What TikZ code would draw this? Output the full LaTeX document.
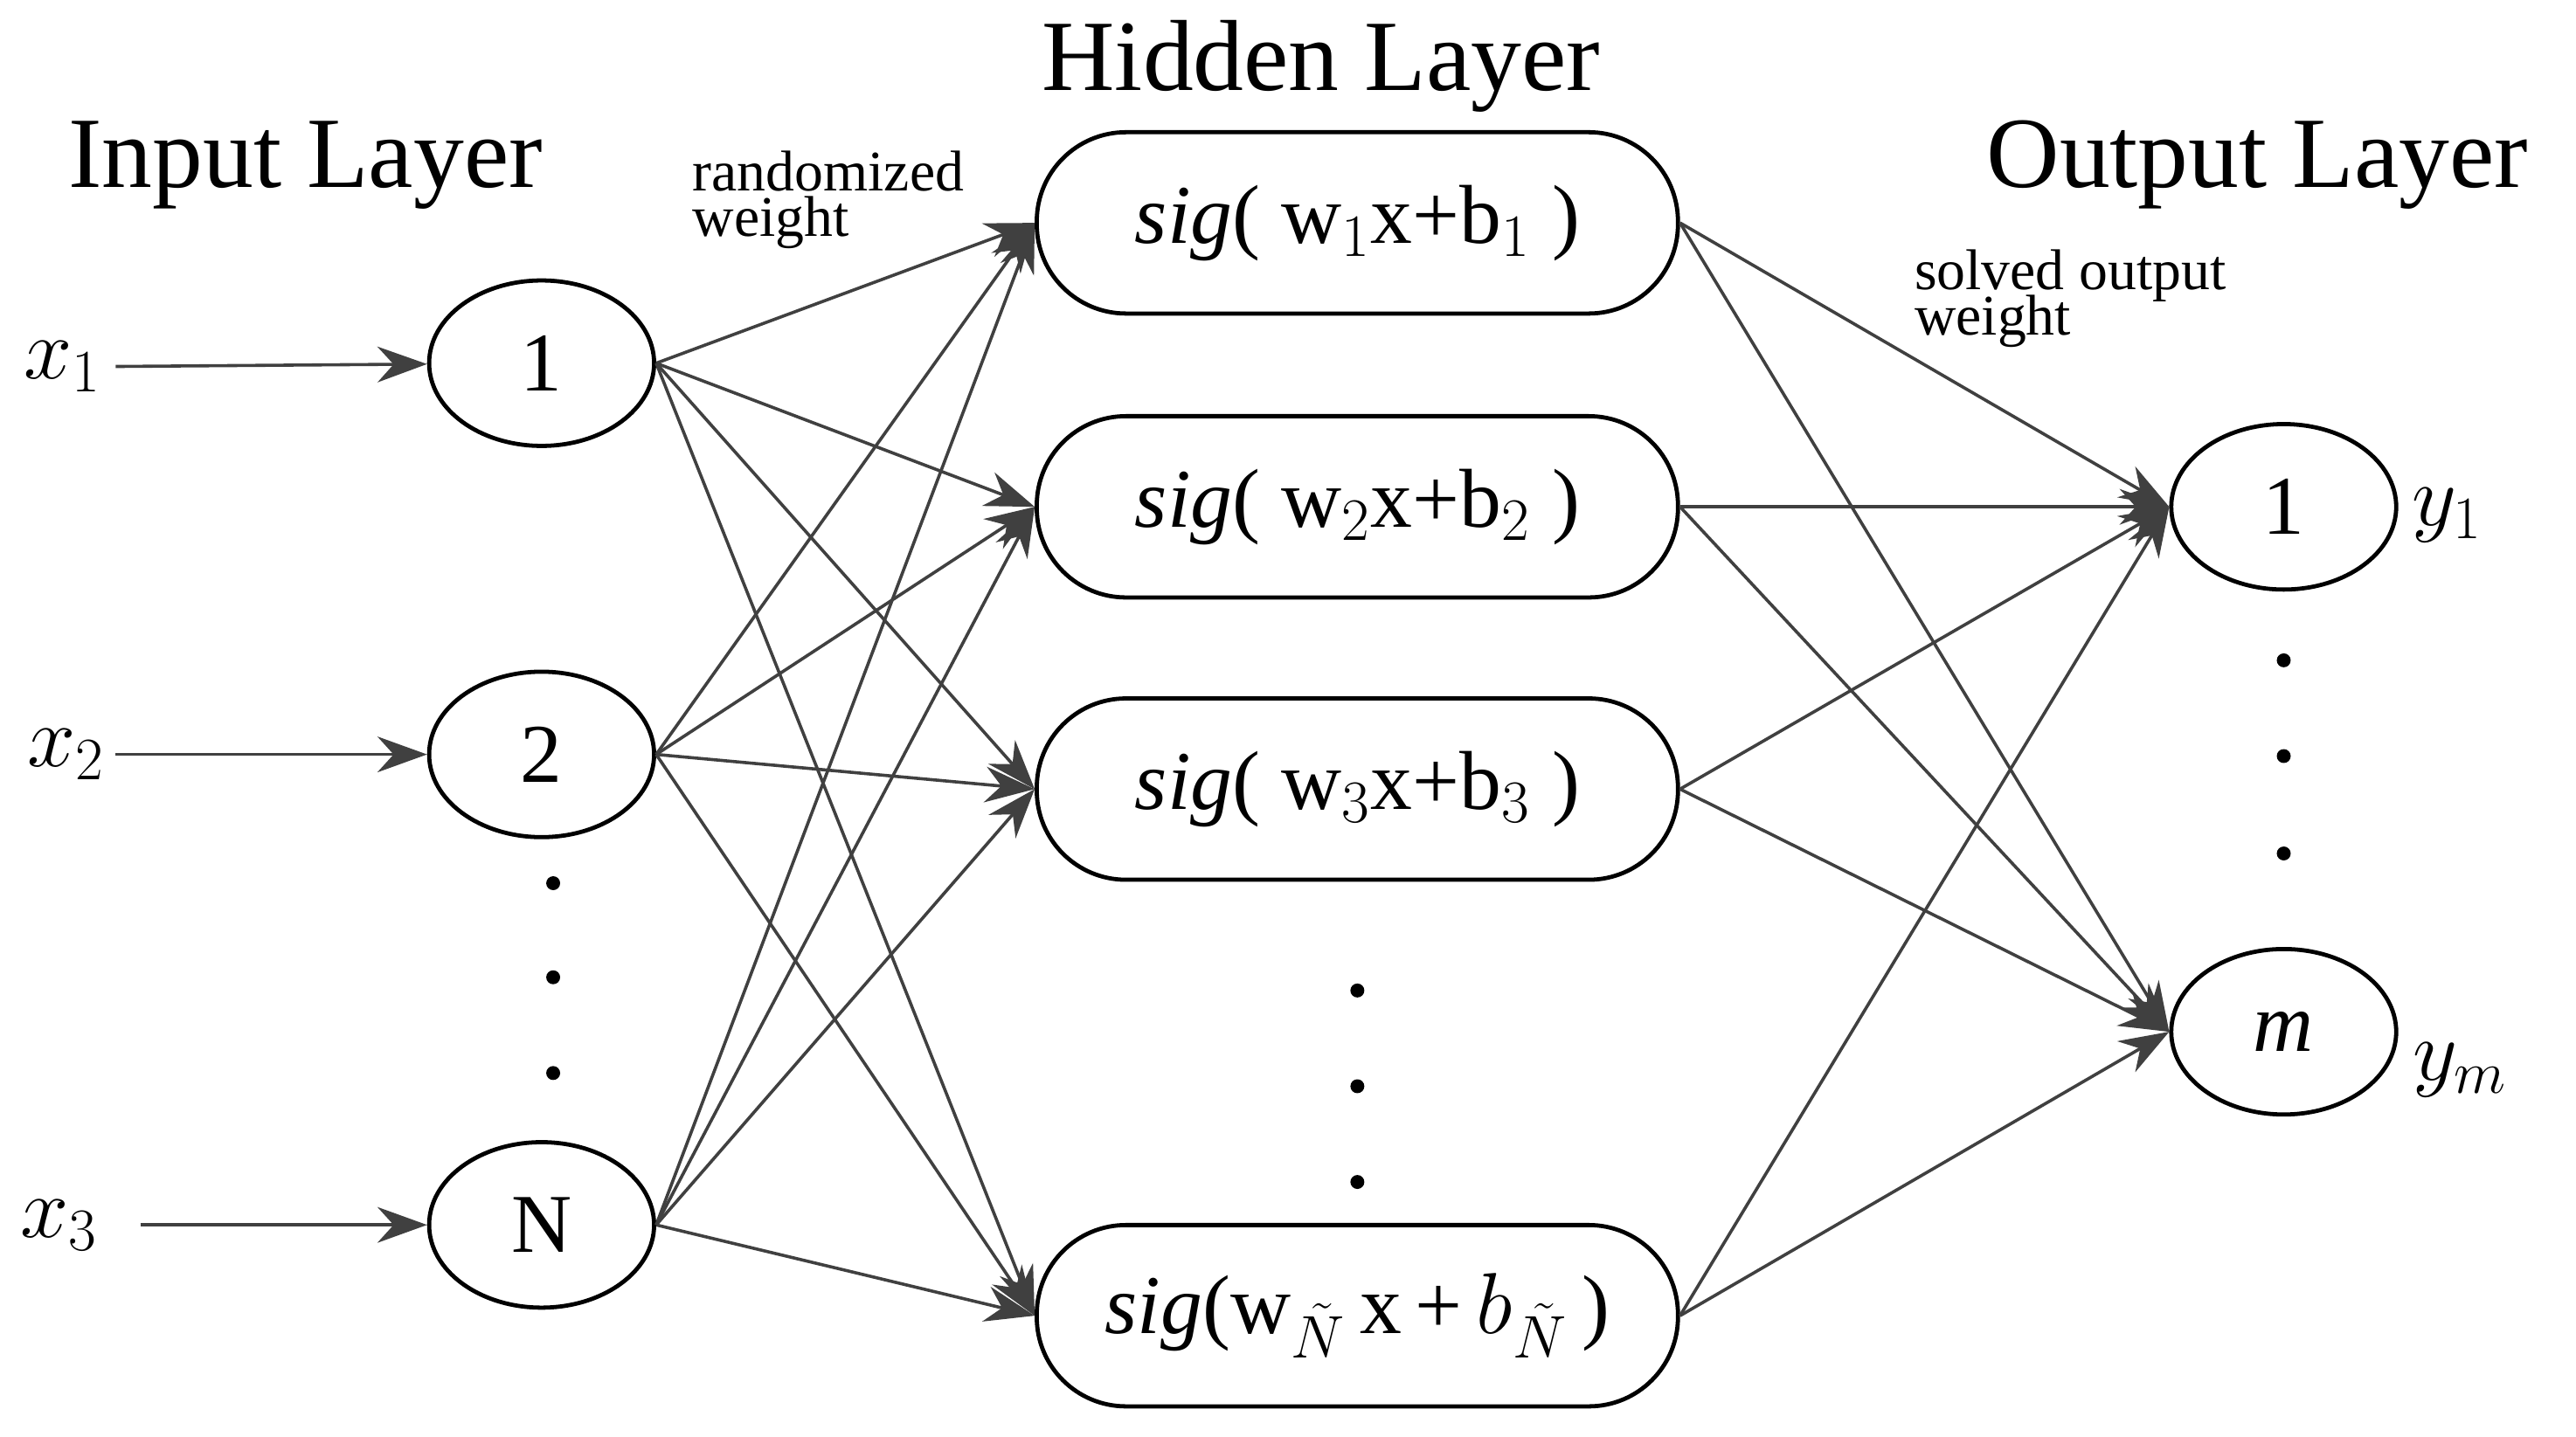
\documentclass[tikz,border=0pt]{standalone}
\usepackage{fontspec}
\setmainfont{Liberation Serif}
\usetikzlibrary{shapes.geometric,arrows.meta}
\begin{document}
\begin{tikzpicture}[x=0.016667cm,y=-0.016667cm,
  neuron/.style={draw,line width=1.2pt,ellipse,minimum width=2.27cm,minimum height=1.67cm,inner sep=0pt,font=\fontsize{24}{28}\selectfont},
  hid/.style={draw,line width=1.2pt,rounded corners=0.9cm,minimum width=6.47cm,minimum height=1.83cm,font=\fontsize{24}{28}\selectfont},
  conn/.style={line width=0.9pt,draw=black!75,-{Stealth[length=0.5cm,width=0.36cm]}},
  dot/.style={circle,fill=black,inner sep=0pt,minimum size=4pt},
  title/.style={font=\fontsize{29}{32}\selectfont},
  small/.style={font=\fontsize{16.5}{17}\selectfont,align=left}]
\useasboundingbox (0,0) rectangle (1560,870);
\node[title] (tin) at (185,100) {Input Layer};
\node[title] (thid) at (800,40) {Hidden Layer};
\node[title] (tout) at (1367,100) {Output Layer};
\node[small,anchor=north west] (rw) at (412,84) {randomized\\[-4pt]weight};
\node[small,anchor=north west] (sw) at (1152,144) {solved output\\[-4pt]weight};
\node[neuron] (in1) at (328,220) {1};
\node[neuron] (in2) at (328,457) {2};
\node[neuron] (in3) at (328,742) {N};
\node[hid] (h1) at (822,135) {\textit{sig}( w$_1$x+b$_1$ )};
\node[hid] (h2) at (822,307) {\textit{sig}( w$_2$x+b$_2$ )};
\node[hid] (h3) at (822,478) {\textit{sig}( w$_3$x+b$_3$ )};
\node[hid] (h4) at (822,797) {\textit{sig}(w$_{\tilde N}$\,x\,+\,$b_{\tilde N}$\,)};
\node[neuron] (o1) at (1383,307) {1};
\node[neuron] (o2) at (1383,625) {\textit{m}};
\node[font=\fontsize{26}{28}\selectfont] (x1) at (38,222) {$x_1$};
\node[font=\fontsize{26}{28}\selectfont] (x2) at (40,457) {$x_2$};
\node[font=\fontsize{26}{28}\selectfont] (x3) at (36,742) {$x_3$};
\node[font=\fontsize{26}{28}\selectfont] (y1) at (1482,312) {$y_1$};
\node[font=\fontsize{26}{28}\selectfont] (ym) at (1490,648) {$y_m$};
\coordinate (a1) at (70,222);
\coordinate (a2) at (70,457);
\coordinate (a3) at (85,742);
\draw[conn] (a1) -- (in1);
\draw[conn] (a2) -- (in2);
\draw[conn] (a3) -- (in3);
\foreach \i in {1,2,3}{\foreach \j in {1,2,3,4}{\draw[conn] (in\i.east) -- (h\j.west);}}
\foreach \j in {1,2,3,4}{\foreach \k in {1,2}{\draw[conn] (h\j.east) -- (o\k.west);}}
\foreach \y [count=\n] in {535,592,650}{\node[dot] (di\n) at (335,\y) {};}
\foreach \y [count=\n] in {600,658,716}{\node[dot] (dh\n) at (822,\y) {};}
\foreach \y [count=\n] in {400,458,517}{\node[dot] (do\n) at (1383,\y) {};}
\end{tikzpicture}
\end{document}
